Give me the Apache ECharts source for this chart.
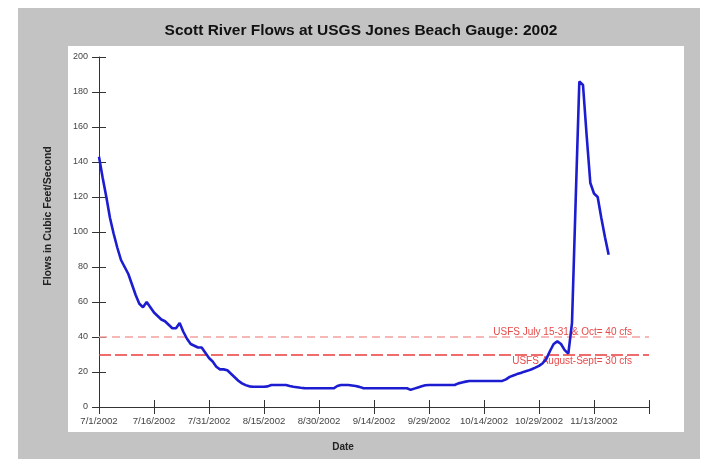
<!DOCTYPE html>
<html><head><meta charset="utf-8">
<script src="https://cdn.jsdelivr.net/npm/echarts@6/dist/echarts.min.js"></script>
<style>html,body{margin:0;padding:0;background:#fff}#c{width:711px;height:464px}</style>
</head><body><div id="c"></div>
<script>
const chartTitle = 'Scott River Flows at USGS Jones Beach Gauge: 2002';
const yAxisTitle = 'Flows in Cubic Feet/Second';
const xAxisTitle = 'Date';
const xTickLabels = ['7/1/2002','7/16/2002','7/31/2002','8/15/2002','8/30/2002','9/14/2002','9/29/2002','10/14/2002','10/29/2002','11/13/2002',''];
// daily flow (cfs), starting 7/1/2002
const flows = [
143,131,120,108,99,91,84,80,76,70,
64,59,57,60,57,54,52,50,49,47,
45,45,48,43,39,36,35,34,34,31,
28,26,23,21.5,21.5,21,19,17,15,13.5,
12.5,11.8,11.6,11.6,11.6,11.6,11.8,12.6,12.6,12.6,
12.6,12.6,12,11.6,11.3,11,10.8,10.7,10.7,10.7,
10.7,10.7,10.7,10.7,10.7,12,12.6,12.6,12.6,12.3,
12,11.5,10.8,10.7,10.7,10.7,10.7,10.7,10.7,10.7,
10.7,10.7,10.7,10.7,10.7,9.8,10.5,11.2,11.8,12.4,
12.6,12.6,12.6,12.6,12.6,12.6,12.6,12.6,13.5,14,
14.5,14.9,14.9,14.9,14.9,14.9,14.9,14.9,14.9,14.9,
14.9,15.8,17.2,18,18.8,19.4,20.2,20.8,21.6,22.5,
23.5,25,27.5,32,36,37.5,36,32.5,30.5,48,
118,186,184,155,128,122,120,108,97,87
];
const limitValues = [40, 30];
const limitLabels = ['USFS July 15-31 & Oct= 40 cfs', 'USFS August-Sept= 30 cfs'];

const flowData = flows.map((v, i) => [i, v]);

const chart = echarts.init(document.getElementById('c'), null, {renderer: 'canvas'});
const axisFont = 'Liberation Sans, Arial, sans-serif';
chart.setOption({
  backgroundColor: '#ffffff',
  animation: false,
  graphic: [
    {type: 'rect', z: -10, silent: true, shape: {x: 18, y: 8, width: 682, height: 451}, style: {fill: '#c3c3c3'}},
    {type: 'rect', z: -9, silent: true, shape: {x: 68, y: 46, width: 616, height: 386}, style: {fill: '#ffffff'}},
    {type: 'text', x: 361, y: 31, style: {text: chartTitle, font: 'bold 15.5px ' + axisFont, fill: '#111', align: 'center', verticalAlign: 'middle'}},
    {type: 'text', x: 343, y: 447, style: {text: xAxisTitle, font: 'bold 10px ' + axisFont, fill: '#222', align: 'center', verticalAlign: 'middle'}},
    {type: 'text', x: 48, y: 216, rotation: Math.PI / 2, style: {text: yAxisTitle, font: 'bold 10.5px ' + axisFont, fill: '#222', align: 'center', verticalAlign: 'middle'}}
  ],
  grid: {left: 99, right: 62, top: 57, bottom: 57, containLabel: false},
  xAxis: [
    {type: 'value', min: 0, max: 150, interval: 15,
     axisLine: {show: true, lineStyle: {color: '#333', width: 1}},
     axisTick: {show: true, inside: false, length: 7, lineStyle: {color: '#333'}},
     axisLabel: {show: true, margin: 9, fontSize: 9.6, color: '#444', fontFamily: axisFont,
       formatter: v => xTickLabels[Math.round(v / 15)] || ''},
     splitLine: {show: false}},
    {type: 'value', min: 0, max: 150, interval: 15, position: 'bottom',
     axisLine: {show: false}, axisLabel: {show: false}, splitLine: {show: false},
     axisTick: {show: true, inside: true, length: 7, lineStyle: {color: '#333'}}}
  ],
  yAxis: [
    {type: 'value', min: 0, max: 200, interval: 20,
     axisLine: {show: true, lineStyle: {color: '#333', width: 1}},
     axisTick: {show: true, inside: false, length: 7, lineStyle: {color: '#333'}},
     axisLabel: {show: true, margin: 11, fontSize: 9, color: '#444', fontFamily: axisFont},
     splitLine: {show: false}},
    {type: 'value', min: 0, max: 200, interval: 20, position: 'left',
     axisLine: {show: false}, axisLabel: {show: false}, splitLine: {show: false},
     axisTick: {show: true, inside: true, length: 7, lineStyle: {color: '#333'}}}
  ],
  series: [
    {type: 'line', data: flowData, showSymbol: false, symbol: 'none', smooth: false, z: 5,
     lineStyle: {color: '#1c1cd0', width: 2.6},
     markLine: {
       silent: true, symbol: 'none',
       data: [
         [{coord: [0, limitValues[0]], lineStyle: {color: '#f3a0a0', width: 1.5, type: [8, 5]},
           label: {show: true, formatter: limitLabels[0], position: 'insideEndTop', distance: [17, 0], color: '#e84a4a', fontSize: 10, fontFamily: axisFont}},
          {coord: [150, limitValues[0]]}],
         [{coord: [0, limitValues[1]], lineStyle: {color: '#ec3c3c', width: 1.5, type: [12, 4]},
           label: {show: true, formatter: limitLabels[1], position: 'insideEndBottom', distance: [17, 2], color: '#e84a4a', fontSize: 10, fontFamily: axisFont}},
          {coord: [150, limitValues[1]]}]
       ]
     }}
  ]
});
</script></body></html>
